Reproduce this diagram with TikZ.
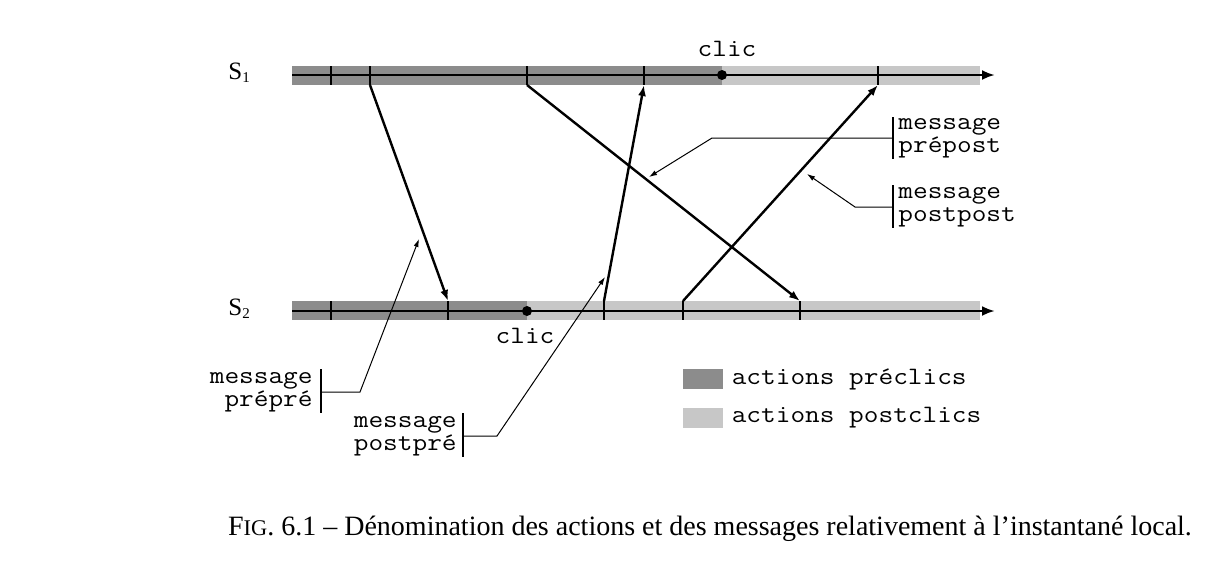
\documentclass[tikz,border=0pt]{standalone}
\usepackage{fontspec}
\setmainfont{Liberation Serif}
\setmonofont{Latin Modern Mono}[FakeStretch=1.14]
\usetikzlibrary{arrows.meta,calc,positioning}
\definecolor{preclic}{gray}{0.55}
\definecolor{postclic}{gray}{0.78}
\tikzset{
    axe/.style={line width=1.3pt,-{Latex[length=6.5pt,width=5pt]}},
    tickmark/.style={line width=0.7pt},
    msg/.style={line width=1.2pt,-{Latex[length=5.5pt,width=4pt]}},
    leader/.style={line width=0.5pt,-{Latex[length=4pt,width=2.6pt]}},
    bracket/.style={line width=0.6pt},
    txt/.style={font=\ttfamily\fontsize{12.5pt}{11.5pt}\selectfont,inner sep=0pt},
    proc/.style={font=\fontsize{12.5pt}{12.5pt}\selectfont,inner sep=0pt,anchor=base west},
    dot/.style={circle,fill,inner sep=0pt,minimum size=5pt},
    swatch/.style={inner sep=0pt,minimum width=20pt,minimum height=10pt}
}
\begin{document}
\begin{tikzpicture}[x=0.5pt,y=-0.5pt]
    \useasboundingbox (0,0) rectangle (1214,568);
    % bandes des actions
    \fill[preclic] (292,66) rectangle (722,85);
    \fill[postclic] (722,66) rectangle (980,85);
    \fill[preclic] (292,301) rectangle (527,320);
    \fill[postclic] (527,301) rectangle (980,320);
    % lignes des sites
    \node[proc] (s1) at (228,79) {S\raisebox{-1.5pt}{\fontsize{7.5pt}{7.5pt}\selectfont 1}};
    \node[proc] (s2) at (228,315) {S\raisebox{-1.5pt}{\fontsize{7.5pt}{7.5pt}\selectfont 2}};
    \coordinate (s1start) at (292,75);
    \coordinate (s1end) at (995,75);
    \coordinate (s2start) at (292,311);
    \coordinate (s2end) at (995,311);
    \draw[axe] (s1start) -- (s1end);
    \draw[axe] (s2start) -- (s2end);
    % evenements
    \foreach \x/\n in {331/a,370/b,527/c,644/d,878/e}
    {
        \draw[tickmark] (\x,66) -- (\x,85);
        \coordinate (u\n) at (\x,85);
    }
    \foreach \x/\n in {331/a,448/b,604/c,683/d,800/e}
    {
        \draw[tickmark] (\x,301) -- (\x,320);
        \coordinate (l\n) at (\x,301);
    }
    \node[dot] (clic1) at (722,75) {};
    \node[dot] (clic2) at (527,311) {};
    \node[txt,anchor=base] (clic1lbl) at (727,56) {clic};
    \node[txt,anchor=base] (clic2lbl) at (525,343) {clic};
    % messages
    \draw[msg] (ub) -- (lb);
    \draw[msg] (uc) -- (le);
    \draw[msg] (lc) -- (ud);
    \draw[msg] (ld) -- (ue);
    % noms des messages
    \coordinate (tprepost) at (649,177);
    \coordinate (tpostpost) at (807,174);
    \coordinate (tprepre) at (419,239);
    \coordinate (tpostpre) at (605,277);
    \node[txt,anchor=west,align=left,inner xsep=2.5pt] (prepost) at (893,138) {message\\prépost};
    \draw[bracket] ($(prepost.west)+(0,-21)$) -- ($(prepost.west)+(0,21)$);
    \draw[leader] (prepost.west) -- (712,138) -- (tprepost);
    \node[txt,anchor=west,align=left,inner xsep=2.5pt] (postpost) at (893,207) {message\\postpost};
    \draw[bracket] ($(postpost.west)+(0,-22)$) -- ($(postpost.west)+(0,21)$);
    \draw[leader] (postpost.west) -- (855,207) -- (tpostpost);
    \node[txt,anchor=east,align=right,inner xsep=4pt] (prepre) at (321,392) {message\\prépré};
    \draw[bracket] ($(prepre.east)+(0,-23)$) -- ($(prepre.east)+(0,21)$);
    \draw[leader] (prepre.east) -- (360,392) -- (tprepre);
    \node[txt,anchor=east,align=right,inner xsep=3pt] (postpre) at (463,436) {message\\postpré};
    \draw[bracket] ($(postpre.east)+(0,-23)$) -- ($(postpre.east)+(0,21)$);
    \draw[leader] (postpre.east) -- (497,436) -- (tpostpre);
    % legende
    \node[swatch,fill=preclic] (sqpre) at (703,379) {};
    \node[swatch,fill=postclic] (sqpost) at (703,418) {};
    \node[txt,right=4pt of sqpre] (lgpre) {actions préclics};
    \node[txt,right=4pt of sqpost] (lgpost) {actions postclics};
    % legende de la figure
    \node[anchor=base,font=\fontsize{14pt}{16pt}\selectfont,inner sep=0pt] (caption) at (710,535)
        {F{\fontsize{11.2pt}{12pt}\selectfont IG}. 6.1 – Dénomination des actions et des messages relativement à l’instantané local.};
\end{tikzpicture}
\end{document}
